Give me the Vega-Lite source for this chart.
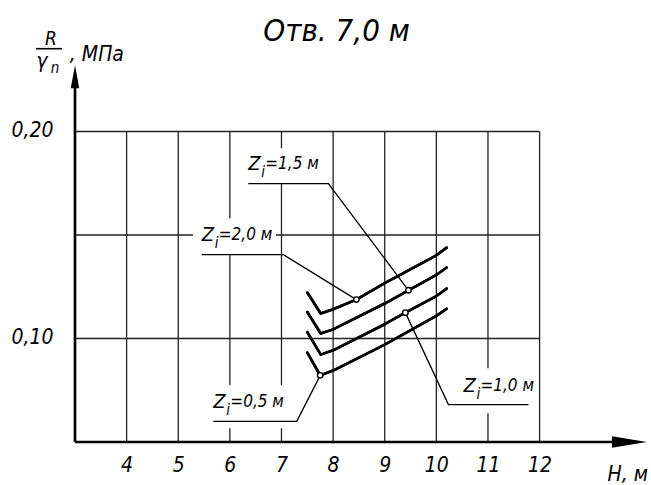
{
  "$schema": "https://vega.github.io/schema/vega-lite/v6.json",
  "width": 573,
  "height": 414,
  "autosize": {"type": "none"},
  "padding": {"left": 75, "top": 28, "right": 3, "bottom": 43},
  "background": "white",
  "config": {"view": {"stroke": null}, "font": "DejaVu Sans Condensed, DejaVu Sans, sans-serif"},
  "title": {
    "text": "Отв. 7,0 м",
    "font": "DejaVu Sans Condensed, DejaVu Sans, sans-serif",
    "fontStyle": "italic",
    "fontWeight": "normal",
    "fontSize": 31,
    "color": "#000",
    "anchor": "middle",
    "frame": "group",
    "dx": -25,
    "offset": -20
  },
  "datasets": {
    "curves": [
      {"z": "2,0", "o": 1, "h": 7.50, "r": 0.1222},
      {"z": "2,0", "o": 2, "h": 7.76, "r": 0.1121},
      {"z": "2,0", "o": 3, "h": 8.00, "r": 0.1141},
      {"z": "2,0", "o": 4, "h": 8.45, "r": 0.1188},
      {"z": "2,0", "o": 5, "h": 9.00, "r": 0.1268},
      {"z": "2,0", "o": 6, "h": 10.00, "r": 0.1402},
      {"z": "2,0", "o": 7, "h": 10.20, "r": 0.1439},
      {"z": "1,5", "o": 1, "h": 7.50, "r": 0.1128},
      {"z": "1,5", "o": 2, "h": 7.76, "r": 0.1024},
      {"z": "1,5", "o": 3, "h": 8.00, "r": 0.1044},
      {"z": "1,5", "o": 4, "h": 9.00, "r": 0.1169},
      {"z": "1,5", "o": 5, "h": 9.46, "r": 0.1233},
      {"z": "1,5", "o": 6, "h": 10.00, "r": 0.1307},
      {"z": "1,5", "o": 7, "h": 10.20, "r": 0.1343},
      {"z": "1,0", "o": 1, "h": 7.50, "r": 0.1031},
      {"z": "1,0", "o": 2, "h": 7.76, "r": 0.0922},
      {"z": "1,0", "o": 3, "h": 8.00, "r": 0.0943},
      {"z": "1,0", "o": 4, "h": 9.00, "r": 0.1069},
      {"z": "1,0", "o": 5, "h": 9.40, "r": 0.1125},
      {"z": "1,0", "o": 6, "h": 10.00, "r": 0.1205},
      {"z": "1,0", "o": 7, "h": 10.20, "r": 0.1241},
      {"z": "0,5", "o": 1, "h": 7.50, "r": 0.0932},
      {"z": "0,5", "o": 2, "h": 7.75, "r": 0.0822},
      {"z": "0,5", "o": 3, "h": 8.00, "r": 0.0845},
      {"z": "0,5", "o": 4, "h": 9.00, "r": 0.0970},
      {"z": "0,5", "o": 5, "h": 10.00, "r": 0.1109},
      {"z": "0,5", "o": 6, "h": 10.20, "r": 0.1144}
    ],
    "leaders": [
      {"z": "2,0", "o": 1, "h": 5.455, "r": 0.1405},
      {"z": "2,0", "o": 2, "h": 7.037, "r": 0.1405},
      {"z": "2,0", "o": 3, "h": 8.45, "r": 0.1188},
      {"z": "1,5", "o": 1, "h": 6.357, "r": 0.1748},
      {"z": "1,5", "o": 2, "h": 7.909, "r": 0.1748},
      {"z": "1,5", "o": 3, "h": 9.46, "r": 0.1233},
      {"z": "0,5", "o": 1, "h": 5.68, "r": 0.0600},
      {"z": "0,5", "o": 2, "h": 7.296, "r": 0.0600},
      {"z": "0,5", "o": 3, "h": 7.75, "r": 0.0822},
      {"z": "1,0", "o": 1, "h": 11.785, "r": 0.0681},
      {"z": "1,0", "o": 2, "h": 10.234, "r": 0.0681},
      {"z": "1,0", "o": 3, "h": 9.40, "r": 0.1125}
    ],
    "markers": [
      {"z": "2,0", "h": 8.45, "r": 0.1188},
      {"z": "1,5", "h": 9.46, "r": 0.1233},
      {"z": "1,0", "h": 9.40, "r": 0.1125},
      {"z": "0,5", "h": 7.75, "r": 0.0822}
    ],
    "labels": [
      {"rest": "=2,0 м", "h": 5.455, "r": 0.1500, "bx": 5.286, "bx2": 6.894, "by": 0.1405, "by2": 0.1581},
      {"rest": "=1,5 м", "h": 6.357, "r": 0.1845, "bx": 6.197, "bx2": 7.786, "by": 0.1750, "by2": 0.1919},
      {"rest": "=0,5 м", "h": 5.680, "r": 0.0693, "bx": 5.518, "bx2": 7.359, "by": 0.0566, "by2": 0.0774},
      {"rest": "=1,0 м", "h": 10.525, "r": 0.0770, "bx": 10.360, "bx2": 11.870, "by": 0.0639, "by2": 0.0856}
    ],
    "vgrid": [{"h": 4}, {"h": 5}, {"h": 6}, {"h": 7}, {"h": 8}, {"h": 9}, {"h": 10}, {"h": 11}, {"h": 12}],
    "hgrid": [{"r": 0.10}, {"r": 0.15}, {"r": 0.20}],
    "axislines": [
      {"h": 3, "h2": 13.6, "r": 0.05, "r2": 0.05},
      {"h": 3, "h2": 3, "r": 0.05, "r2": 0.222}
    ],
    "xarrow": [{"h": 13.74, "r": 0.05}],
    "yarrow": [{"h": 3, "r": 0.2265}],
    "ytitle": [
      {"t": "R", "h": 2.535, "r": 0.2448},
      {"t": "γ", "h": 2.25, "r": 0.2334},
      {"t": "n", "h": 2.53, "r": 0.2306},
      {"t": ", МПа", "h": 2.90, "r": 0.2368}
    ],
    "ybar": [{"h": 2.244, "h2": 2.748, "r": 0.2400}]
  },
  "layer": [
    {
      "data": {"name": "curves"},
      "mark": {"type": "line", "stroke": "#000", "strokeWidth": 2.6, "strokeJoin": "round", "strokeCap": "round"},
      "encoding": {
        "x": {
          "field": "h", "type": "quantitative",
          "scale": {"domain": [3, 14.1], "nice": false, "zero": false},
          "axis": {
            "values": [4, 5, 6, 7, 8, 9, 10, 11, 12],
            "domain": false, "ticks": false, "grid": false,
            "labelFont": "DejaVu Sans Condensed, DejaVu Sans, sans-serif", "labelFontStyle": "italic", "labelFontSize": 21,
            "labelColor": "#000", "labelBaseline": "middle", "labelPadding": 23,
            "labelFlush": false, "labelOverlap": false,
            "title": "H, м", "titleFont": "DejaVu Sans Condensed, DejaVu Sans, sans-serif", "titleFontStyle": "italic",
            "titleFontWeight": "normal", "titleFontSize": 21, "titleColor": "#000",
            "titleX": 532, "titleY": 32, "titleAlign": "left", "titleBaseline": "middle"
          }
        },
        "y": {
          "field": "r", "type": "quantitative",
          "scale": {"domain": [0.05, 0.25], "nice": false, "zero": false},
          "axis": {
            "values": [0.1, 0.2],
            "domain": false, "ticks": false, "grid": false,
            "labelExpr": "replace(format(datum.value, '.2f'), '.', ',')",
            "labelFont": "DejaVu Sans Condensed, DejaVu Sans, sans-serif", "labelFontStyle": "italic", "labelFontSize": 21,
            "labelColor": "#000", "labelBaseline": "middle", "labelPadding": 22,
            "labelFlush": false, "labelOverlap": false, "labelOffset": -1,
            "title": null
          }
        },
        "detail": {"field": "z"},
        "order": {"field": "o", "type": "quantitative"}
      }
    },
    {
      "data": {"name": "vgrid"},
      "mark": {"type": "rule", "stroke": "#222", "strokeWidth": 1.3},
      "encoding": {
        "x": {"field": "h", "type": "quantitative"},
        "y": {"datum": 0.05, "type": "quantitative"},
        "y2": {"datum": 0.2}
      }
    },
    {
      "data": {"name": "hgrid"},
      "mark": {"type": "rule", "stroke": "#222", "strokeWidth": 1.3},
      "encoding": {
        "y": {"field": "r", "type": "quantitative"},
        "x": {"datum": 3, "type": "quantitative"},
        "x2": {"datum": 12}
      }
    },
    {
      "data": {"name": "labels"},
      "mark": {"type": "rect", "fill": "white"},
      "encoding": {
        "x": {"field": "bx", "type": "quantitative"},
        "x2": {"field": "bx2"},
        "y": {"field": "by", "type": "quantitative"},
        "y2": {"field": "by2"}
      }
    },
    {
      "data": {"name": "axislines"},
      "mark": {"type": "rule", "stroke": "#000", "strokeWidth": 2.7},
      "encoding": {
        "x": {"field": "h", "type": "quantitative"},
        "x2": {"field": "h2"},
        "y": {"field": "r", "type": "quantitative"},
        "y2": {"field": "r2"}
      }
    },
    {
      "data": {"name": "xarrow"},
      "mark": {"type": "point", "shape": "M-1,-0.33L1,0L-1,0.33Z", "size": 1225, "filled": true, "fill": "#000", "strokeWidth": 0, "opacity": 1},
      "encoding": {
        "x": {"field": "h", "type": "quantitative"},
        "y": {"field": "r", "type": "quantitative"}
      }
    },
    {
      "data": {"name": "yarrow"},
      "mark": {"type": "point", "shape": "M-0.37,1L0,-1L0.37,1Z", "size": 529, "filled": true, "fill": "#000", "strokeWidth": 0, "opacity": 1},
      "encoding": {
        "x": {"field": "h", "type": "quantitative"},
        "y": {"field": "r", "type": "quantitative"}
      }
    },
    {
      "data": {"name": "curves"},
      "mark": {"type": "line", "stroke": "#000", "strokeWidth": 2.6, "strokeJoin": "round", "strokeCap": "round"},
      "encoding": {
        "x": {"field": "h", "type": "quantitative"},
        "y": {"field": "r", "type": "quantitative"},
        "detail": {"field": "z"},
        "order": {"field": "o", "type": "quantitative"}
      }
    },
    {
      "data": {"name": "leaders"},
      "mark": {"type": "line", "stroke": "#000", "strokeWidth": 1.3},
      "encoding": {
        "x": {"field": "h", "type": "quantitative"},
        "y": {"field": "r", "type": "quantitative"},
        "detail": {"field": "z"},
        "order": {"field": "o", "type": "quantitative"}
      }
    },
    {
      "data": {"name": "markers"},
      "mark": {"type": "point", "shape": "circle", "size": 30, "filled": true, "fill": "white", "stroke": "#000", "strokeWidth": 1.4, "opacity": 1},
      "encoding": {
        "x": {"field": "h", "type": "quantitative"},
        "y": {"field": "r", "type": "quantitative"}
      }
    },
    {
      "data": {"name": "labels"},
      "mark": {"type": "text", "text": "Z", "align": "left", "baseline": "middle", "fontStyle": "italic", "fontSize": 20, "fill": "#000"},
      "encoding": {
        "x": {"field": "h", "type": "quantitative"},
        "y": {"field": "r", "type": "quantitative"}
      }
    },
    {
      "data": {"name": "labels"},
      "mark": {"type": "text", "text": "i", "align": "left", "baseline": "middle", "dx": 13, "dy": 8, "fontStyle": "italic", "fontSize": 15, "fill": "#000"},
      "encoding": {
        "x": {"field": "h", "type": "quantitative"},
        "y": {"field": "r", "type": "quantitative"}
      }
    },
    {
      "data": {"name": "labels"},
      "mark": {"type": "text", "align": "left", "baseline": "middle", "dx": 17, "fontStyle": "italic", "fontSize": 17, "fill": "#000"},
      "encoding": {
        "x": {"field": "h", "type": "quantitative"},
        "y": {"field": "r", "type": "quantitative"},
        "text": {"field": "rest"}
      }
    },
    {
      "data": {"name": "ytitle"},
      "transform": [{"filter": "datum.t === 'R'"}],
      "mark": {"type": "text", "align": "center", "baseline": "middle", "fontStyle": "italic", "fontSize": 19, "fill": "#000"},
      "encoding": {
        "x": {"field": "h", "type": "quantitative"},
        "y": {"field": "r", "type": "quantitative"},
        "text": {"field": "t"}
      }
    },
    {
      "data": {"name": "ybar"},
      "mark": {"type": "rule", "stroke": "#000", "strokeWidth": 1.6},
      "encoding": {
        "x": {"field": "h", "type": "quantitative"},
        "x2": {"field": "h2"},
        "y": {"field": "r", "type": "quantitative"}
      }
    },
    {
      "data": {"name": "ytitle"},
      "transform": [{"filter": "datum.t === 'γ' || datum.t === ', МПа'"}],
      "mark": {"type": "text", "align": "left", "baseline": "middle", "fontStyle": "italic", "fontSize": 21, "fill": "#000"},
      "encoding": {
        "x": {"field": "h", "type": "quantitative"},
        "y": {"field": "r", "type": "quantitative"},
        "text": {"field": "t"}
      }
    },
    {
      "data": {"name": "ytitle"},
      "transform": [{"filter": "datum.t === 'n'"}],
      "mark": {"type": "text", "align": "left", "baseline": "middle", "fontStyle": "italic", "fontSize": 15, "fill": "#000"},
      "encoding": {
        "x": {"field": "h", "type": "quantitative"},
        "y": {"field": "r", "type": "quantitative"},
        "text": {"field": "t"}
      }
    }
  ]
}
